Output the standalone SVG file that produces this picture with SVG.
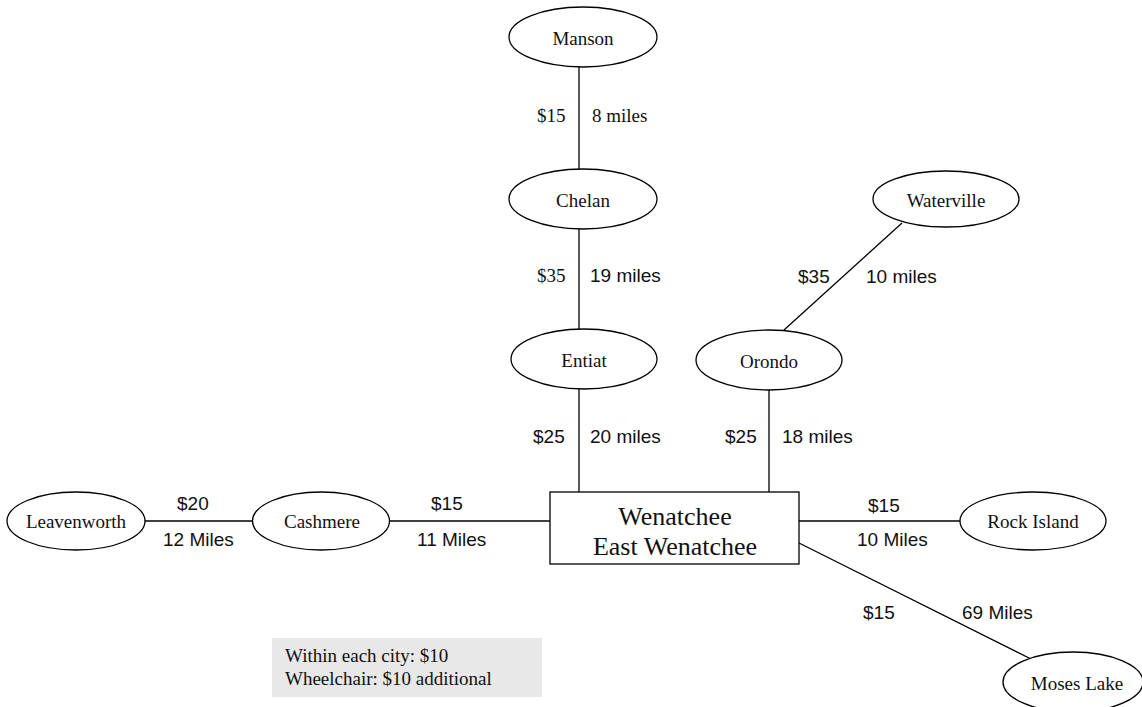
<svg xmlns="http://www.w3.org/2000/svg" width="1142" height="707" viewBox="0 0 1142 707">
<style>
.n{fill:#fff;stroke:#000;stroke-width:1.3}
.nt{font-family:"Liberation Serif",serif;font-size:19px;text-anchor:middle;fill:#111}
.s{font-family:"Liberation Sans",sans-serif;font-size:19px;fill:#111}
.r{font-family:"Liberation Serif",serif;font-size:19px;fill:#111}
.c{stroke:#000;stroke-width:1.3;fill:none}
.bt{font-family:"Liberation Serif",serif;font-size:26px;text-anchor:middle;fill:#111}
</style>
<rect width="1142" height="707" fill="#fff"/>
<g id="connectors">
<line class="c" x1="579" y1="67" x2="579" y2="169"/>
<line class="c" x1="579" y1="229" x2="579" y2="329"/>
<line class="c" x1="579" y1="389" x2="579" y2="492"/>
<line class="c" x1="769" y1="389" x2="769" y2="492"/>
<line class="c" x1="784" y1="330" x2="902" y2="223"/>
<line class="c" x1="145" y1="521" x2="253" y2="521"/>
<line class="c" x1="390" y1="521" x2="550" y2="521"/>
<line class="c" x1="799" y1="521" x2="960" y2="521"/>
<line class="c" x1="799" y1="543" x2="1031" y2="659"/>
<text class="r" x="537" y="122">$15</text>
<text class="r" x="592" y="122">8 miles</text>
<text class="r" x="537" y="282">$35</text>
<text class="s" x="590" y="282">19 miles</text>
<text class="s" x="533" y="443">$25</text>
<text class="s" x="590" y="443">20 miles</text>
<text class="s" x="725" y="443">$25</text>
<text class="s" x="782" y="443">18 miles</text>
<text class="s" x="798" y="283">$35</text>
<text class="s" x="866" y="283">10 miles</text>
<text class="s" x="177" y="510">$20</text>
<text class="s" x="163" y="546">12 Miles</text>
<text class="s" x="431" y="510">$15</text>
<text class="s" x="417" y="546">11 Miles</text>
<text class="s" x="868" y="512">$15</text>
<text class="s" x="857" y="546">10 Miles</text>
<text class="s" x="863" y="619">$15</text>
<text class="s" x="962" y="619">69 Miles</text>
</g>
<g id="manson"><ellipse class="n" cx="583" cy="37" rx="74" ry="30"/><text class="nt" x="583" y="45">Manson</text></g>
<g id="chelan"><ellipse class="n" cx="583" cy="199" rx="74" ry="30"/><text class="nt" x="583" y="207">Chelan</text></g>
<g id="entiat"><ellipse class="n" cx="584" cy="359" rx="73" ry="30"/><text class="nt" x="584" y="367">Entiat</text></g>
<g id="orondo"><ellipse class="n" cx="769" cy="360" rx="73" ry="30"/><text class="nt" x="769" y="368">Orondo</text></g>
<g id="waterville"><ellipse class="n" cx="946" cy="199" rx="73" ry="28"/><text class="nt" x="946" y="207">Waterville</text></g>
<g id="leavenworth"><ellipse class="n" cx="76" cy="521" rx="69" ry="29"/><text class="nt" x="76" y="528">Leavenworth</text></g>
<g id="cashmere"><ellipse class="n" cx="321" cy="521" rx="68.5" ry="29"/><text class="nt" x="322" y="528">Cashmere</text></g>
<g id="rock-island"><ellipse class="n" cx="1033" cy="521" rx="73" ry="29"/><text class="nt" x="1033" y="528">Rock Island</text></g>
<g id="moses-lake"><ellipse class="n" cx="1073" cy="682" rx="70" ry="30"/><text class="nt" x="1077" y="690">Moses Lake</text></g>
<g id="wenatchee"><rect class="n" x="550" y="492" width="249" height="72"/><text class="bt" x="675" y="525">Wenatchee</text><text class="bt" x="675" y="555">East Wenatchee</text></g>
<g id="note"><rect x="272" y="638" width="270" height="59" fill="#e8e8e8"/><text class="r" x="285" y="662">Within each city: $10</text><text class="r" x="285" y="685">Wheelchair: $10 additional</text></g>
</svg>
